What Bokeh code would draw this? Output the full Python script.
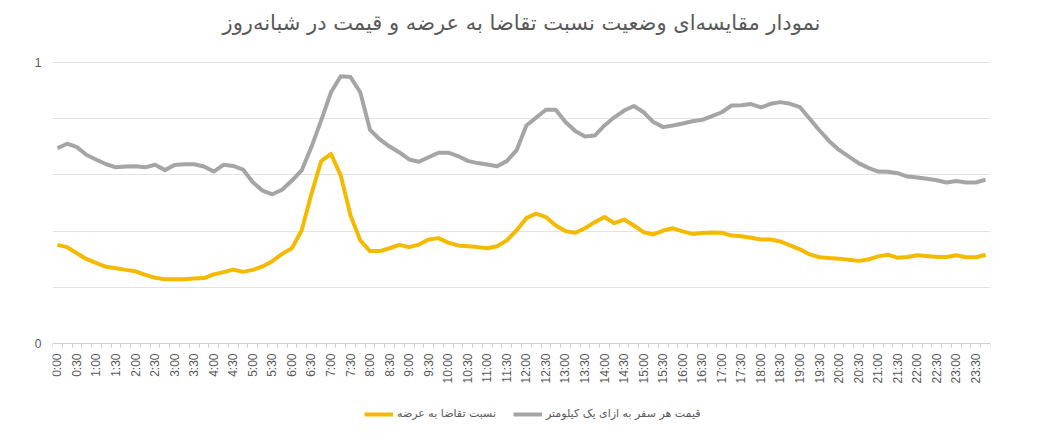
import math
from bokeh.plotting import figure
from bokeh.models import Range1d, FixedTicker, Legend, LegendItem, Label
from bokeh.embed import file_html
from bokeh.resources import INLINE

title_text = "نمودار مقایسه\u200cای وضعیت نسبت تقاضا به عرضه و قیمت در شبانه\u200cروز"
series_names = ["نسبت تقاضا به عرضه", "قیمت هر سفر به ازای یک کیلومتر"]

times = [
    "0:00", "0:15", "0:30", "0:45", "1:00", "1:15", "1:30", "1:45",
    "2:00", "2:15", "2:30", "2:45", "3:00", "3:15", "3:30", "3:45",
    "4:00", "4:15", "4:30", "4:45", "5:00", "5:15", "5:30", "5:45",
    "6:00", "6:15", "6:30", "6:45", "7:00", "7:15", "7:30", "7:45",
    "8:00", "8:15", "8:30", "8:45", "9:00", "9:15", "9:30", "9:45",
    "10:00", "10:15", "10:30", "10:45", "11:00", "11:15", "11:30", "11:45",
    "12:00", "12:15", "12:30", "12:45", "13:00", "13:15", "13:30", "13:45",
    "14:00", "14:15", "14:30", "14:45", "15:00", "15:15", "15:30", "15:45",
    "16:00", "16:15", "16:30", "16:45", "17:00", "17:15", "17:30", "17:45",
    "18:00", "18:15", "18:30", "18:45", "19:00", "19:15", "19:30", "19:45",
    "20:00", "20:15", "20:30", "20:45", "21:00", "21:15", "21:30", "21:45",
    "22:00", "22:15", "22:30", "22:45", "23:00", "23:15", "23:30", "23:45",
]

demand_ratio = [
    0.351, 0.343, 0.321, 0.300, 0.286, 0.273, 0.268, 0.262,
    0.257, 0.244, 0.234, 0.229, 0.229, 0.229, 0.231, 0.233,
    0.246, 0.254, 0.263, 0.255, 0.262, 0.274, 0.293, 0.319,
    0.339, 0.402, 0.533, 0.649, 0.675, 0.598, 0.456, 0.367,
    0.329, 0.329, 0.339, 0.351, 0.343, 0.352, 0.370, 0.375,
    0.359, 0.349, 0.346, 0.343, 0.339, 0.346, 0.367, 0.403,
    0.446, 0.462, 0.450, 0.420, 0.400, 0.394, 0.410, 0.432,
    0.450, 0.428, 0.441, 0.420, 0.396, 0.388, 0.402, 0.410,
    0.399, 0.390, 0.393, 0.395, 0.394, 0.384, 0.382, 0.376,
    0.370, 0.370, 0.363, 0.349, 0.335, 0.317, 0.307, 0.304,
    0.302, 0.298, 0.294, 0.299, 0.310, 0.316, 0.305, 0.308,
    0.314, 0.311, 0.308, 0.308, 0.314, 0.307, 0.307, 0.316,
]

price_per_km = [
    0.695, 0.711, 0.699, 0.671, 0.654, 0.638, 0.627, 0.630,
    0.631, 0.627, 0.636, 0.617, 0.635, 0.638, 0.638, 0.630,
    0.612, 0.636, 0.632, 0.619, 0.574, 0.544, 0.531, 0.547,
    0.580, 0.616, 0.699, 0.794, 0.894, 0.951, 0.948, 0.894,
    0.760, 0.726, 0.701, 0.680, 0.655, 0.647, 0.663, 0.679,
    0.679, 0.667, 0.650, 0.642, 0.637, 0.631, 0.649, 0.688,
    0.776, 0.804, 0.832, 0.832, 0.788, 0.756, 0.737, 0.740,
    0.776, 0.805, 0.829, 0.845, 0.823, 0.788, 0.770, 0.776,
    0.783, 0.791, 0.796, 0.809, 0.823, 0.847, 0.848, 0.852,
    0.840, 0.853, 0.859, 0.853, 0.841, 0.800, 0.758, 0.720,
    0.689, 0.665, 0.642, 0.625, 0.612, 0.611, 0.606, 0.594,
    0.591, 0.586, 0.581, 0.573, 0.578, 0.573, 0.573, 0.583,
]

y_label_ticks = [0, 1]
y_grid_ticks = [0.2, 0.4, 0.6, 0.8, 1.0]

# layout (pixels): value axis spans 281 px, with 62 px above it and 98 px below it
PX_PER_UNIT = 281.0
TOP_PX, BOTTOM_PX = 62, 98
y_lo = 0 - BOTTOM_PX / PX_PER_UNIT
y_hi = 1 + TOP_PX / PX_PER_UNIT

x = list(range(len(times)))

p = figure(
    frame_width=938, frame_height=TOP_PX + 281 + BOTTOM_PX,
    output_backend="svg", toolbar_location=None,
    x_range=Range1d(-0.5, len(times) - 0.5), y_range=Range1d(y_lo, y_hi),
    min_border_left=52, min_border_right=46, min_border_top=0, min_border_bottom=0,
)
p.outline_line_color = None
p.background_fill_color = "white"
p.border_fill_color = "white"

# x axis pinned at value 0
xa = p.xaxis[0]
xa.fixed_location = 0
major = list(range(0, len(times), 2))
xa.ticker = FixedTicker(ticks=major, minor_ticks=[i - 0.5 for i in range(len(times) + 1)])
xa.major_label_overrides = {i: times[i] for i in major}
xa.major_label_orientation = math.pi / 2
xa.major_tick_line_color = None
xa.minor_tick_in = 0
xa.minor_tick_out = 4
xa.minor_tick_line_color = "#cfcfcf"
xa.axis_line_color = "#d0d0d0"
xa.major_label_standoff = 4
xa.major_label_text_font = "Liberation Sans"
xa.major_label_text_font_size = "12px"
xa.major_label_text_color = "#595959"

# y axis
ya = p.yaxis[0]
ya.ticker = FixedTicker(ticks=y_label_ticks)
ya.axis_line_color = None
ya.major_tick_line_color = None
ya.minor_tick_line_color = None
ya.major_label_standoff = 5
ya.major_label_text_font = "Liberation Sans"
ya.major_label_text_font_size = "12px"
ya.major_label_text_color = "#595959"

p.xgrid.visible = False
p.ygrid.ticker = FixedTicker(ticks=y_grid_ticks)
p.ygrid.grid_line_color = "#e3e3e3"
p.ygrid.grid_line_width = 1

r1 = p.line(x, demand_ratio, line_color="#F5BA00", line_width=4, line_join="round")
r2 = p.line(x, price_per_km, line_color="#A5A5A5", line_width=4, line_join="round")

# title, drawn 22 px below the top edge, centred over the plot
title = Label(
    x=(len(times) - 1) / 2, y=y_hi - 22 / PX_PER_UNIT,
    text=title_text, text_align="center", text_baseline="middle",
    text_font="DejaVu Sans", text_font_size="21px", text_color="#595959",
)
p.add_layout(title)

legend = Legend(
    items=[LegendItem(label=series_names[0], renderers=[r1]),
           LegendItem(label=series_names[1], renderers=[r2])],
    orientation="horizontal", location=(312, 21),
)
legend.label_text_font = "DejaVu Sans"
legend.label_text_font_size = "11px"
legend.label_text_color = "#595959"
legend.glyph_width = 29
legend.glyph_height = 12
legend.spacing = 17
legend.label_standoff = 4
legend.padding = 0
legend.margin = 0
legend.border_line_color = None
legend.background_fill_alpha = 0
p.add_layout(legend, "center")

open("out.html", "w").write(file_html(p, INLINE))
